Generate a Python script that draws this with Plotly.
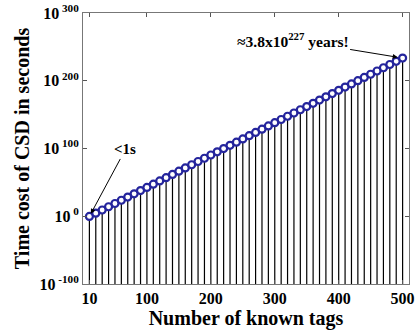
import plotly.graph_objects as go

# Number of known tags
tags = list(range(10, 510, 10))
# log10 of time cost (seconds)
log_time = [-0.3, 4.5, 9.2, 14.0, 18.8, 23.6, 28.3, 33.1, 37.9, 42.6,
            47.4, 52.2, 57.0, 61.7, 66.5, 71.3, 76.0, 80.8, 85.6, 90.4,
            95.1, 99.9, 104.7, 109.4, 114.2, 119.0, 123.8, 128.5, 133.3, 138.1,
            142.8, 147.6, 152.4, 157.2, 161.9, 166.7, 171.5, 176.2, 181.0, 185.8,
            190.6, 195.3, 200.1, 204.9, 209.6, 214.4, 219.2, 224.0, 228.7, 233.5]
time_cost = [10.0 ** e for e in log_time]

y_tick_exp = [-100, 0, 100, 200, 300]
y_tick_text = ["10<sup> -100</sup>", "10<sup> 0</sup>", "10<sup> 100</sup>",
               "10<sup> 200</sup>", "10<sup> 300</sup>"]
x_ticks = [10, 100, 200, 300, 400, 500]
base = 10.0 ** -100

FONT = "Liberation Serif"
BLUE = "#24249c"

# stems
sx, sy = [], []
for x, y in zip(tags, time_cost):
    sx += [x, x, None]
    sy += [base, y, None]

fig = go.Figure()
fig.add_trace(go.Scatter(x=sx, y=sy, mode="lines",
                         line=dict(color="black", width=1.2), hoverinfo="skip",
                         showlegend=False))
fig.add_trace(go.Scatter(x=tags, y=time_cost, mode="markers",
                         marker=dict(symbol="circle", size=7, color="white",
                                     line=dict(color=BLUE, width=2.2)),
                         showlegend=False))

fig.add_annotation(x=tags[0], y=log_time[0], text="<b>&lt;1s</b>",
                   showarrow=True, arrowhead=2, arrowsize=1, arrowwidth=1,
                   arrowcolor="black", ax=36, ay=-67, standoff=3,
                   font=dict(family=FONT, size=15, color="black"))
fig.add_annotation(x=tags[-1], y=log_time[-1],
                   text="<b>≈3.8x10<sup>227</sup> years!</b>",
                   showarrow=True, arrowhead=2, arrowsize=1, arrowwidth=1,
                   arrowcolor="black", ax=-110, ay=-18, standoff=5,
                   font=dict(family=FONT, size=15.5, color="black"))

fig.update_layout(
    width=419, height=333,
    margin=dict(l=83, r=10, t=13, b=49),
    paper_bgcolor="white", plot_bgcolor="white",
    font=dict(family=FONT, size=14, color="black"),
    xaxis=dict(range=[0, 510], tickmode="array", tickvals=x_ticks,
               ticktext=[f"<b>{v}</b>" for v in x_ticks],
               ticks="inside", ticklen=4, tickcolor="#555",
               showline=True, linecolor="#777", linewidth=1, mirror="ticks",
               showgrid=False, zeroline=False, automargin=False,
               tickfont=dict(family=FONT, size=16, color="black"),
               title=dict(text="<b>Number of known tags</b>", standoff=0,
                          font=dict(family=FONT, size=20, color="black"))),
    yaxis=dict(type="log", range=[-100, 300], tickmode="array",
               tickvals=[10.0 ** e for e in y_tick_exp],
               ticktext=[f"<b>{t}</b>" for t in y_tick_text],
               ticks="inside", ticklen=4, tickcolor="#555",
               showline=True, linecolor="#777", linewidth=1, mirror="ticks",
               showgrid=False, zeroline=False, automargin=False,
               tickfont=dict(family=FONT, size=16, color="black"),
               title=dict(text="<b>Time cost of CSD in seconds</b>", standoff=4,
                          font=dict(family=FONT, size=20, color="black"))),
)

fig.write_html("out.html", config={"displayModeBar": False},
               post_script="document.body.style.margin='0';document.body.style.overflow='hidden';")
